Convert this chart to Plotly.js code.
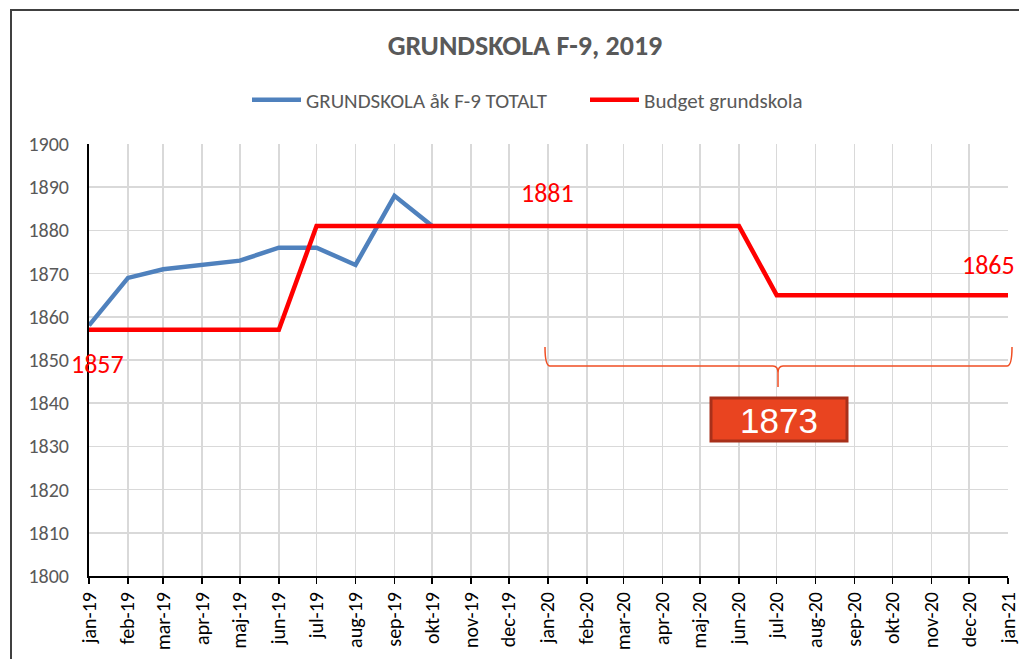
<!DOCTYPE html>
<html><head><meta charset="utf-8">
<script src="https://cdn.plot.ly/plotly-3.0.1.min.js"></script>
<style>html,body{margin:0;padding:0;background:#fff}#c{width:1019px;height:659px}</style>
</head><body><div id="c"></div>
<script>
const months = ['2019-01-01','2019-02-01','2019-03-01','2019-04-01','2019-05-01','2019-06-01','2019-07-01','2019-08-01','2019-09-01','2019-10-01','2019-11-01','2019-12-01','2020-01-01','2020-02-01','2020-03-01','2020-04-01','2020-05-01','2020-06-01','2020-07-01','2020-08-01','2020-09-01','2020-10-01','2020-11-01','2020-12-01','2021-01-01'];
const tickLabels = ['jan-19','feb-19','mar-19','apr-19','maj-19','jun-19','jul-19','aug-19','sep-19','okt-19','nov-19','dec-19','jan-20','feb-20','mar-20','apr-20','maj-20','jun-20','jul-20','aug-20','sep-20','okt-20','nov-20','dec-20','jan-21'];
const actualMonths = months.slice(0,10);
const actualValues = [1858,1869,1871,1872,1873,1876,1876,1872,1888,1881];
const budgetValues = [1857,1857,1857,1857,1857,1857,1881,1881,1881,1881,1881,1881,1881,1881,1881,1881,1881,1881,1865,1865,1865,1865,1865,1865,1865];
const seriesNames = ['GRUNDSKOLA åk F-9 TOTALT','Budget grundskola'];
const titleText = 'GRUNDSKOLA F-9, 2019';
const avgLabel = '1873';

const FONT = "Carlito, Calibri, 'Liberation Sans Narrow', 'DejaVu Sans Condensed', sans-serif";
// pixel helpers for decorations (plot area: x 89..1008, y 144..576)
const L=89, R=1008, T=144, B=576;
const px = x => (x-L)/(R-L);
const py = y => (B-y)/(B-T);

const traces = [
  {x: actualMonths, y: actualValues, name: seriesNames[0], type:'scatter', mode:'lines',
   line:{color:'#4F81BD', width:4.5}},
  {x: months, y: budgetValues, name: seriesNames[1], type:'scatter', mode:'lines',
   line:{color:'#FF0000', width:4.5}}
];

const bracePath = `M${px(545)},${py(347)} Q${px(545)},${py(366)} ${px(550)},${py(366)} L${px(773)},${py(366)} Q${px(778)},${py(366)} ${px(778)},${py(373)} L${px(778)},${py(387)} M${px(778)},${py(373)} Q${px(778)},${py(366)} ${px(783)},${py(366)} L${px(1007)},${py(366)} Q${px(1012)},${py(366)} ${px(1012)},${py(347)}`;

const layout = {
  width:1019, height:659,
  margin:{l:89, r:11, t:144, b:83, autoexpand:false},
  paper_bgcolor:'#fff', plot_bgcolor:'#fff',
  font:{family:FONT, color:'#595959'},
  title:{text:'<b>'+titleText+'</b>', font:{family:FONT, size:28, color:'#595959'}, x:525/1019, xanchor:'center', y:1-45/659, yanchor:'middle'},
  showlegend:true,
  legend:{orientation:'h', x:px(247), xanchor:'left', y:py(100), yanchor:'middle', font:{family:FONT, size:21, color:'#595959'},
    itemwidth:49, tracegroupgap:0, entrywidth:274, entrywidthmode:'pixels'},
  xaxis:{type:'date', range:[months[0], months[months.length-1]], tickmode:'array', tickvals:months, ticktext:tickLabels,
    tickangle:-90, ticks:'outside', ticklen:6, tickcolor:'#000', tickwidth:1.5, ticklabeloverflow:'allow',
    showgrid:true, gridcolor:'#D9D9D9', gridwidth:1.5, showline:true, linecolor:'#000', linewidth:2,
    tickfont:{family:FONT, size:20, color:'#000'}, zeroline:false, fixedrange:true},
  yaxis:{range:[1800,1900], dtick:10, tick0:1800, ticks:'', showgrid:true, gridcolor:'#D9D9D9', gridwidth:1.5,
    showline:true, linecolor:'#000', linewidth:2, ticklabelstandoff:14,
    tickfont:{family:FONT, size:20, color:'#595959'}, zeroline:false, fixedrange:true},
  shapes:[
    {type:'rect', xref:'paper', yref:'paper', x0:px(11), x1:px(1030), y0:py(10), y1:py(680), line:{color:'#404040', width:2}, fillcolor:'rgba(0,0,0,0)', layer:'below'},
    {type:'path', xref:'paper', yref:'paper', path:bracePath, line:{color:'#F04E23', width:1.5}},
    {type:'rect', xref:'paper', yref:'paper', x0:px(711), x1:px(847), y0:py(441), y1:py(398), fillcolor:'#E94420', line:{color:'#A8301A', width:3}}
  ],
  annotations:[
    {xref:'paper', yref:'paper', x:px(97), y:py(364), text:String(budgetValues[0]), showarrow:false, xanchor:'center', yanchor:'middle', font:{family:FONT, size:26, color:'#FF0000'}},
    {xref:'paper', yref:'paper', x:px(547), y:py(193), text:String(budgetValues[12]), showarrow:false, xanchor:'center', yanchor:'middle', font:{family:FONT, size:26, color:'#FF0000'}},
    {xref:'paper', yref:'paper', x:px(1017), y:py(265), text:String(budgetValues[24]), showarrow:false, xanchor:'right', yanchor:'middle', font:{family:FONT, size:26, color:'#FF0000'}},
    {xref:'paper', yref:'paper', x:px(779), y:py(420), text:avgLabel, showarrow:false, xanchor:'center', yanchor:'middle', font:{family:"'Liberation Sans', Arial, sans-serif", size:35, color:'#FFFFFF'}}
  ]
};
Plotly.newPlot('c', traces, layout, {staticPlot:true, displayModeBar:false});
</script></body></html>
